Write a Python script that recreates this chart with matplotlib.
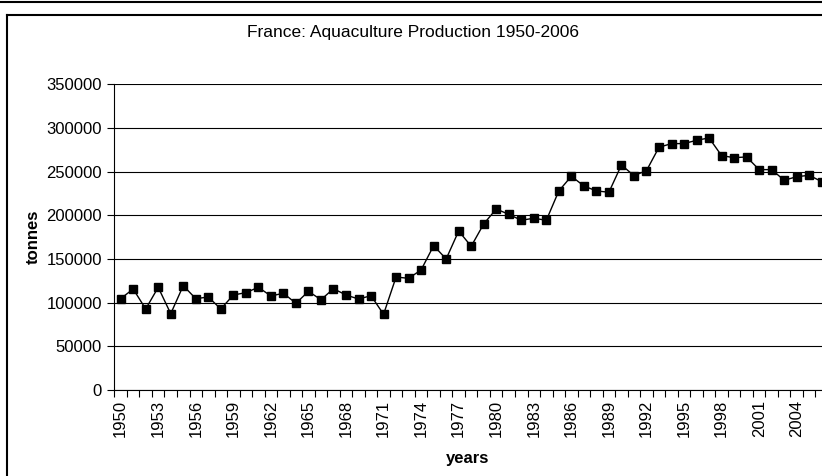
import matplotlib
matplotlib.use("Agg")
import matplotlib.pyplot as plt
from matplotlib.lines import Line2D
from matplotlib.ticker import FixedLocator, NullFormatter

plt.rcParams['font.family'] = ['Liberation Sans', 'DejaVu Sans']

years = list(range(1950, 2007))
tonnes = [104600, 115700, 92800, 117600, 87400, 119500, 104600, 106500, 92800, 108800,
          111500, 117600, 107700, 110800, 99300, 113000, 103400, 116000, 108800, 104200,
          108000, 86700, 129400, 127900, 137500, 165300, 150100, 182100, 164600, 190200,
          207300, 201200, 194400, 196700, 194400, 228000, 244800, 233700, 228000, 226500,
          257700, 245500, 251200, 278000, 282200, 282200, 286000, 288700, 268400, 266100,
          266900, 252400, 252400, 240200, 244300, 245900, 238600]
yticks = [0, 50000, 100000, 150000, 200000, 250000, 300000, 350000]
title = "France: Aquaculture Production 1950-2006"

W, H = 822, 476
fig = plt.figure(figsize=(W / 100, H / 100), dpi=100)
fig.patch.set_facecolor('white')

# chart frame (cropped on right and bottom)
fig.add_artist(Line2D([7 / W, 7 / W], [0, 1 - 15 / H], color='black', lw=1.5, transform=fig.transFigure))
fig.add_artist(Line2D([7 / W, 1], [1 - 15 / H, 1 - 15 / H], color='black', lw=1.5, transform=fig.transFigure))
fig.add_artist(Line2D([0, 1], [1 - 1.5 / H, 1 - 1.5 / H], color='black', lw=1.5, transform=fig.transFigure))

left, right, top, bottom = 114.4, 828, 84.4, 390
ax = fig.add_axes([left / W, 1 - bottom / H, (right - left) / W, (bottom - top) / H])

x = list(range(len(years)))
ax.plot(x, tonnes, color='black', lw=1, marker='s', markersize=6,
        markerfacecolor='black', markeredgecolor='black', clip_on=False, zorder=3)

ax.set_xlim(-0.5, len(years) - 0.5)
ax.set_ylim(0, 350000)
ax.set_yticks(yticks)
ax.set_yticklabels([str(v) for v in yticks], fontsize=12)
ax.yaxis.grid(True, color='black', lw=0.8)
ax.set_axisbelow(True)

label_idx = [i for i, yr in enumerate(years) if (yr - 1950) % 3 == 0]
ax.set_xticks(label_idx)
ax.set_xticklabels([str(years[i]) for i in label_idx], rotation=90, fontsize=12)
ax.tick_params(axis='x', which='major', length=0, pad=7)
ax.xaxis.set_minor_locator(FixedLocator([i - 0.5 for i in range(len(years) + 1)]))
ax.xaxis.set_minor_formatter(NullFormatter())
ax.tick_params(axis='x', which='minor', length=5, direction='out', width=0.8)
ax.tick_params(axis='y', length=5, direction='out', width=0.8, pad=4)

for s in ['top', 'right']:
    ax.spines[s].set_visible(False)
ax.spines['left'].set_linewidth(0.8)
ax.spines['bottom'].set_linewidth(0.8)

fig.text(413 / W, 1 - 33 / H, title, ha='center', va='center', fontsize=12.5)
fig.text(33 / W, 1 - 237 / H, "tonnes", ha='center', va='center', rotation=90,
         fontsize=12, fontweight='bold')
fig.text(468 / W, 1 - 458 / H, "years", ha='center', va='center', fontsize=12, fontweight='bold')

fig.savefig("out.png", dpi=100)
